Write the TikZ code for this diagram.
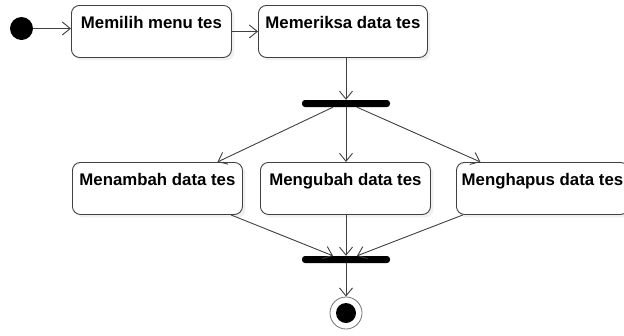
\documentclass[tikz,border=0pt]{standalone}
\usepackage{fontspec}
\setmainfont{Liberation Sans}
\usetikzlibrary{positioning,shapes,arrows.meta,shadows}

\begin{document}
\begin{tikzpicture}
[x=1pt, y=-1pt,
 font=\bfseries\fontsize{16.8}{19}\selectfont,
 act/.style={draw=black!75, line width=0.9pt, rounded corners=8pt, fill=white,
   anchor=north west, inner xsep=0pt, inner ysep=0pt, text height=23pt, text depth=29pt,
   drop shadow={opacity=0.12, shadow xshift=3pt, shadow yshift=-3pt}},
 bar/.style={fill=black, rounded corners=3pt, minimum width=88pt, minimum height=7pt, inner sep=0pt},
 flow/.style={-{Straight Barb[length=8pt,width=13pt]}, draw=black!75, line width=0.9pt}]
\clip (0,0) rectangle (624,335);
% start and first two activities
\node[circle, fill=black, minimum size=23pt, inner sep=0pt] (start) at (21.5,28.5) {};
\node[act, minimum width=160pt] (pilih) at (71,5) {Memilih menu tes};
\node[act, minimum width=169pt] (periksa) at (258,5) {Memeriksa data tes};
\node[bar] (fork) at (346,103.5) {};
% the three branches
\node[act, minimum width=170pt] (tambah) at (72,162) {Menambah data tes};
\node[act, minimum width=170pt] (ubah) at (260,162) {Mengubah data tes};
\node[act, minimum width=172pt] (hapus) at (456,162) {Menghapus data tes};
\node[bar] (join) at (346,259.5) {};
% end
\node[circle, draw=black!55, line width=0.8pt, minimum size=32pt, inner sep=0pt] (stop) at (346,313) {};
\node[circle, fill=black, minimum size=20pt, inner sep=0pt] (stopdot) at (stop) {};
\draw[flow] (start) -- (start -| pilih.west);
\draw[flow] (pilih.east) -- (periksa.west);
\draw[flow] (fork.north |- periksa.south) -- (fork.north);
\draw[flow] ([xshift=-13pt]fork.south) -- ([xshift=60pt]tambah.north);
\draw[flow] (fork.south) -- (fork.south |- ubah.north);
\draw[flow] ([xshift=11pt]fork.south) -- ([xshift=-62pt]hapus.north);
\draw[flow] ([xshift=-12pt]tambah.south east) -- ([xshift=-13pt]join.north);
\draw[flow] (join.north |- ubah.south) -- (join.north);
\draw[flow] ([xshift=7pt]hapus.south west) -- ([xshift=11pt]join.north);
\draw[flow] (join.south) -- (stop.north);
\end{tikzpicture}
\end{document}
